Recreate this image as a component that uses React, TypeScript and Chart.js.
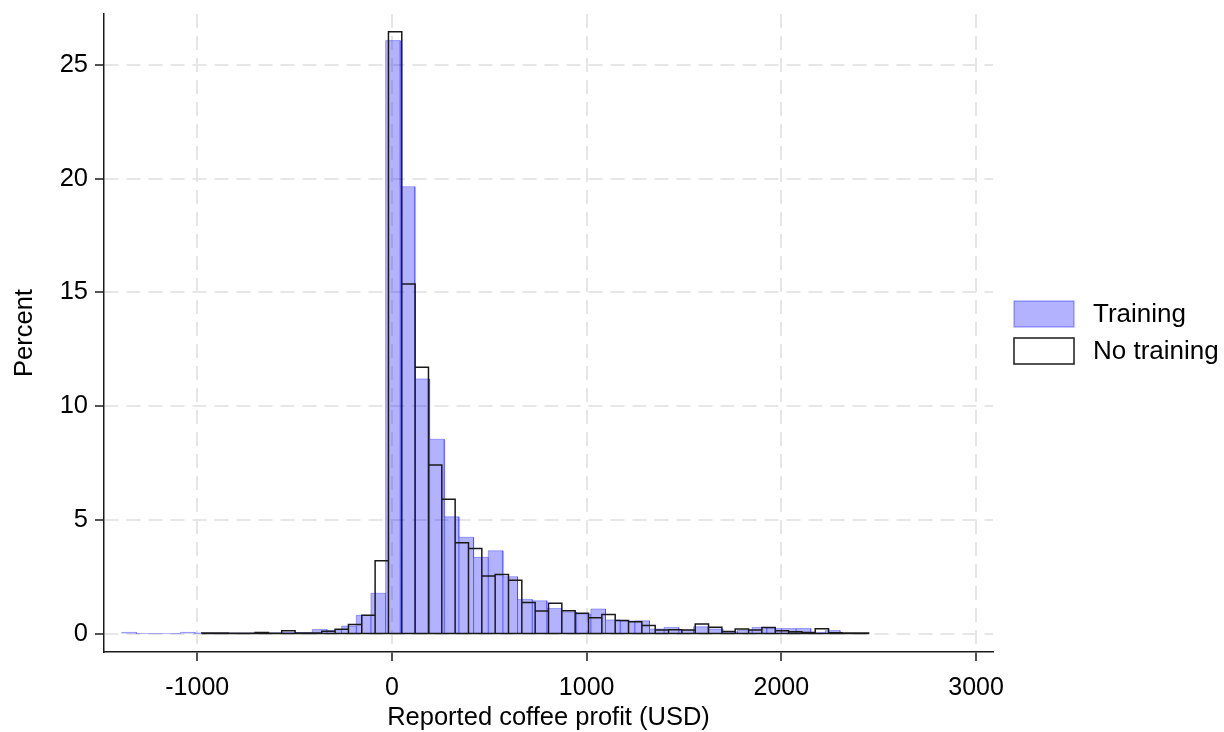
import React, { useEffect, useRef } from 'react';
import { Chart, registerables } from 'chart.js';

Chart.register(...registerables);

// ---- data (percent per bin) ----
const seriesLabels = ['Training', 'No training'];
const xTitle = 'Reported coffee profit (USD)';
const yTitle = 'Percent';

const trainingStart = -1388; // USD, left edge of first bin
const trainingBinWidth = 75.3; // USD
const trainingPct = [
  0.05, 0, 0, 0, 0.05, 0.02, 0.02, 0.02, 0.02, 0.03,
  0.03, 0.05, 0.04, 0.18, 0.14, 0.33, 0.8, 1.77, 26.06, 19.64,
  11.19, 8.54, 5.13, 4.23, 3.35, 3.64, 2.5, 1.5, 1.44, 1.1,
  0.95, 0.85, 1.08, 0.6, 0.55, 0.56, 0.2, 0.27, 0.15, 0.3,
  0.2, 0.08, 0.15, 0.27, 0.22, 0.22, 0.22, 0.05, 0.13,
];

const noTrainingStart = -977; // USD
const noTrainingBinWidth = 68.5; // USD
const noTrainingPct = [
  0.02, 0.02, 0.01, 0.01, 0.05, 0.01, 0.12, 0.02, 0.03, 0.1,
  0.19, 0.4, 0.8, 3.2, 26.45, 15.36, 11.7, 7.41, 5.9, 3.99,
  3.74, 2.53, 2.6, 2.34, 1.37, 0.99, 1.33, 1.0, 0.89, 0.7,
  0.84, 0.57, 0.52, 0.36, 0.16, 0.17, 0.16, 0.42, 0.28, 0.09,
  0.2, 0.16, 0.27, 0.12, 0.08, 0.05, 0.21, 0.04, 0.03, 0.02,
];

const xTicks = [-1000, 0, 1000, 2000, 3000];
const yTicks = [0, 5, 10, 15, 20, 25];
const xRange = [-1479, 3087];
const yRange = [-0.81, 27.23];

// ---- helpers ----
function histogramOutline(start: number, width: number, values: number[], close: boolean) {
  const pts: { x: number; y: number }[] = [];
  values.forEach((v, i) => {
    const a = start + i * width;
    const b = a + width;
    pts.push({ x: a, y: 0 }, { x: a, y: v }, { x: b, y: v }, { x: b, y: 0 });
  });
  if (close) pts.push({ x: start, y: 0 });
  return pts;
}

const FONT = "'Liberation Sans', Arial, Helvetica, sans-serif";
const BLUE = 'rgba(0,0,255,0.3)';
const BLACK = '#1a1a1a';

const sideLegend = {
  id: 'sideLegend',
  afterDraw(chart: any) {
    const { ctx, chartArea } = chart;
    const x = chartArea.right + 21;
    const items = [
      { label: seriesLabels[0], fill: BLUE, stroke: BLUE, y: 301 },
      { label: seriesLabels[1], fill: '#ffffff', stroke: BLACK, y: 338 },
    ];
    ctx.save();
    items.forEach((it) => {
      ctx.fillStyle = it.fill;
      ctx.fillRect(x, it.y, 60, 26);
      ctx.strokeStyle = it.stroke;
      ctx.lineWidth = 1.5;
      ctx.strokeRect(x, it.y, 60, 26);
      ctx.fillStyle = '#000';
      ctx.font = `26px ${FONT}`;
      ctx.textBaseline = 'middle';
      ctx.textAlign = 'left';
      ctx.fillText(it.label, x + 79, it.y + 14);
    });
    ctx.restore();
  },
};

export default function App() {
  const canvasRef = useRef<HTMLCanvasElement | null>(null);

  useEffect(() => {
    const canvas = canvasRef.current;
    if (!canvas) return;
    const gridCommon = {
      color: '#e6e6e6',
      lineWidth: 2,
      tickColor: BLACK,
      tickWidth: 1.5,
      tickLength: 9,
      tickBorderDash: [],
    };
    const chart = new Chart(canvas, {
      type: 'line',
      data: {
        datasets: [
          {
            label: seriesLabels[1],
            data: histogramOutline(noTrainingStart, noTrainingBinWidth, noTrainingPct, true),
            borderColor: BLACK,
            borderWidth: 1.5,
            backgroundColor: 'transparent',
            fill: false,
            pointRadius: 0,
            tension: 0,
            order: 0,
            borderJoinStyle: 'miter',
          },
          {
            label: seriesLabels[0],
            data: histogramOutline(trainingStart, trainingBinWidth, trainingPct, false),
            borderColor: BLUE,
            borderWidth: 1,
            backgroundColor: BLUE,
            fill: 'origin',
            pointRadius: 0,
            tension: 0,
            order: 1,
          },
        ] as any,
      },
      options: {
        animation: false,
        responsive: false,
        maintainAspectRatio: false,
        layout: { padding: { top: 14, right: 231, left: 0, bottom: 0 } },
        plugins: {
          legend: { display: false },
          tooltip: { enabled: false },
        },
        scales: {
          x: {
            type: 'linear',
            min: xRange[0],
            max: xRange[1],
            afterBuildTicks: (scale: any) => {
              scale.ticks = xTicks.map((v) => ({ value: v }));
            },
            afterFit: (scale: any) => {
              scale.height = 80;
              scale.paddingLeft = 0;
              scale.paddingRight = 0;
            },
            grid: gridCommon,
            border: { display: true, color: BLACK, width: 1.5, dash: [14, 8] },
            ticks: {
              color: '#000',
              font: { family: FONT, size: 25 },
              padding: 12,
              maxRotation: 0,
              autoSkip: false,
              callback: (v: any) => String(v),
            },
            title: {
              display: true,
              text: xTitle,
              color: '#000',
              font: { family: FONT, size: 25.5 },
              padding: { top: 0, bottom: -1 },
            },
          },
          y: {
            type: 'linear',
            min: yRange[0],
            max: yRange[1],
            afterBuildTicks: (scale: any) => {
              scale.ticks = yTicks.map((v) => ({ value: v }));
            },
            afterFit: (scale: any) => {
              scale.width = 104;
              scale.paddingTop = 0;
              scale.paddingBottom = 0;
            },
            grid: gridCommon,
            border: { display: true, color: BLACK, width: 1.5, dash: [14, 8] },
            ticks: {
              color: '#000',
              font: { family: FONT, size: 25.5 },
              padding: 7,
              autoSkip: false,
              callback: (v: any) => String(v),
            },
            title: {
              display: true,
              text: yTitle,
              color: '#000',
              font: { family: FONT, size: 25.5 },
              padding: { top: 10, bottom: 0 },
            },
          },
        },
      } as any,
      plugins: [sideLegend],
    });
    return () => chart.destroy();
  }, []);

  return (
    <div style={{ position: 'fixed', left: 0, top: 0, width: 1224, height: 732, background: '#fff' }}>
      <canvas ref={canvasRef} width={1224} height={732} style={{ display: 'block' }} />
    </div>
  );
}
